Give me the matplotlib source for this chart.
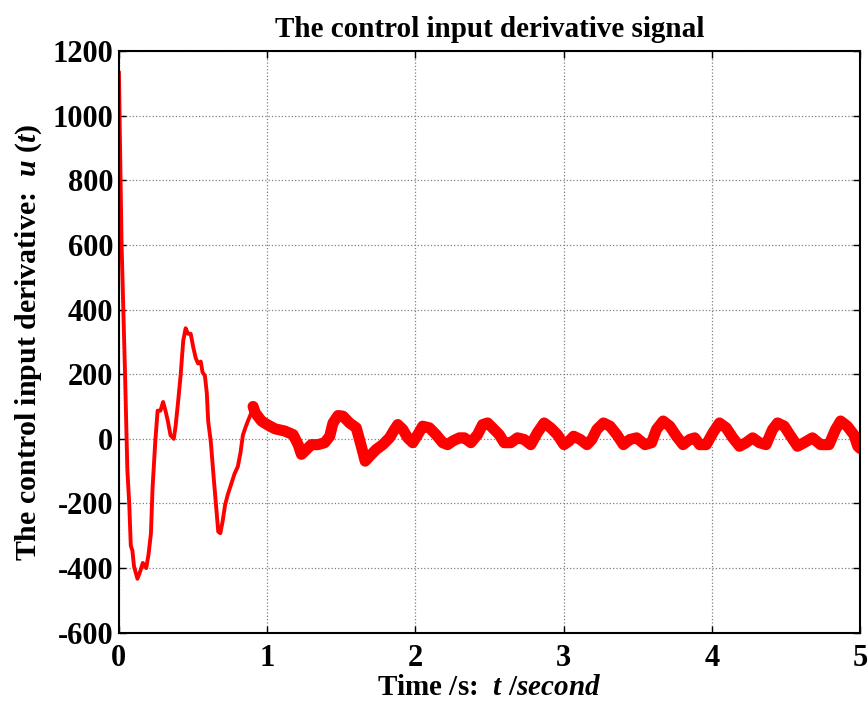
import numpy as np
import matplotlib
matplotlib.use("Agg")
import matplotlib.pyplot as plt

plt.rcParams['font.family'] = ['Liberation Serif', 'DejaVu Serif']
plt.rcParams['font.weight'] = 'bold'
plt.rcParams['mathtext.fontset'] = 'custom'
plt.rcParams['mathtext.rm'] = 'Liberation Serif:bold'
plt.rcParams['mathtext.it'] = 'Liberation Serif:italic:bold'
plt.rcParams['axes.unicode_minus'] = False

# control input derivative
t_start = [0.0, 0.018, 0.041, 0.057, 0.070, 0.080, 0.091, 0.102, 0.125, 0.143,
           0.161, 0.184, 0.200, 0.216, 0.227, 0.245, 0.261, 0.280, 0.298, 0.314,
           0.330, 0.348, 0.370, 0.382, 0.398, 0.416, 0.434, 0.450, 0.466, 0.484,
           0.502, 0.518, 0.534, 0.552, 0.564, 0.580, 0.593, 0.602, 0.620, 0.639,
           0.655, 0.670, 0.684, 0.700, 0.716, 0.734, 0.757, 0.780, 0.802, 0.820,
           0.836, 0.852, 0.870, 0.889]
u_start = [1132, 600, 206, -97, -205, -330, -346, -395, -433, -411,
           -384, -400, -357, -292, -151, -10, 87, 87, 114, 87,
           55, 11, 0, 38, 109, 195, 304, 342, 325, 325,
           282, 250, 233, 239, 206, 195, 141, 55, -10, -119,
           -205, -287, -292, -254, -205, -173, -140, -108, -86, -43,
           11, 33, 55, 76]

t_tail = [0.905, 0.920, 0.962, 1.000, 1.052, 1.119, 1.175, 1.209, 1.231, 1.265,
          1.298, 1.343, 1.388, 1.422, 1.444, 1.478, 1.511, 1.556, 1.601, 1.635,
          1.661, 1.691, 1.735, 1.780, 1.825, 1.859, 1.881, 1.915, 1.948, 1.982,
          2.016, 2.049, 2.094, 2.139, 2.184, 2.217, 2.251, 2.296, 2.330, 2.374,
          2.419, 2.453, 2.487, 2.520, 2.565, 2.599, 2.643, 2.688, 2.733, 2.778,
          2.823, 2.868, 2.912, 2.957, 3.002, 3.036, 3.067, 3.112, 3.157, 3.190,
          3.224, 3.268, 3.313, 3.358, 3.403, 3.447, 3.492, 3.548, 3.593, 3.626,
          3.671, 3.716, 3.761, 3.805, 3.850, 3.884, 3.917, 3.962, 4.007, 4.051,
          4.096, 4.141, 4.186, 4.230, 4.275, 4.320, 4.365, 4.409, 4.443, 4.488,
          4.532, 4.577, 4.622, 4.678, 4.733, 4.790, 4.834, 4.868, 4.913, 4.957,
          4.984, 5.000]
u_tail = [100, 80, 55, 44, 31, 24, 13, -18, -48, -33,
          -18, -18, -12, 8, 49, 72, 70, 49, 34, -23,
          -69, -54, -33, -18, 3, 29, 44, 29, 3, -12,
          13, 39, 34, 13, -12, -18, -7, 3, 3, -12,
          13, 44, 49, 34, 13, -12, -12, 3, -2, -18,
          19, 49, 34, 13, -18, -7, 8, -2, -18, -2,
          29, 49, 39, 13, -18, -2, 3, -18, -12, 29,
          55, 39, 8, -18, -2, 3, -18, -18, 19, 49,
          34, 3, -23, -12, 3, -12, -18, 29, 49, 39,
          8, -23, -12, 3, -18, -18, 29, 55, 39, 13,
          -23, -30]

xticks = [0, 1, 2, 3, 4, 5]
yticks = [-600, -400, -200, 0, 200, 400, 600, 800, 1000, 1200]

fig = plt.figure(figsize=(8.68, 7.07), dpi=100)
ax = fig.add_axes([0.137, 0.105, 0.854, 0.823])

t_all = np.array(t_start + t_tail)
u_all = np.array(u_start + u_tail)
ax.plot(t_all, u_all, color='#ff0000', lw=2.8, solid_joinstyle='round')
# the steady-state part is a noisy band, so draw it wider
ax.plot(t_tail, u_tail, color='#ff0000', lw=8, solid_joinstyle='round',
        solid_capstyle='round')

ax.set_xlim(0, 5)
ax.set_ylim(-600, 1200)
ax.set_xticks(xticks)
ax.set_yticks(yticks)
ax.tick_params(direction='in', top=True, right=True, length=5, width=1,
               labelsize=22)
ax.tick_params(axis='x', pad=8)
ax.tick_params(axis='y', pad=4)
for lab in ax.get_xticklabels() + ax.get_yticklabels():
    lab.set_fontweight('bold')
ax.grid(True, linestyle=':', color='#808080', linewidth=0.9)
for s in ax.spines.values():
    s.set_linewidth(1.5)

ax.set_title('The control input derivative signal', fontsize=21,
             fontweight='bold', pad=10)
ax.set_xlabel(r'Time /s:  $t\ /second$', fontsize=21, fontweight='bold',
              labelpad=1)
ax.set_ylabel(r'The control input derivative:  $u\ (t)$', fontsize=21.5,
              fontweight='bold', labelpad=6)

fig.savefig('out.png', dpi=100)
